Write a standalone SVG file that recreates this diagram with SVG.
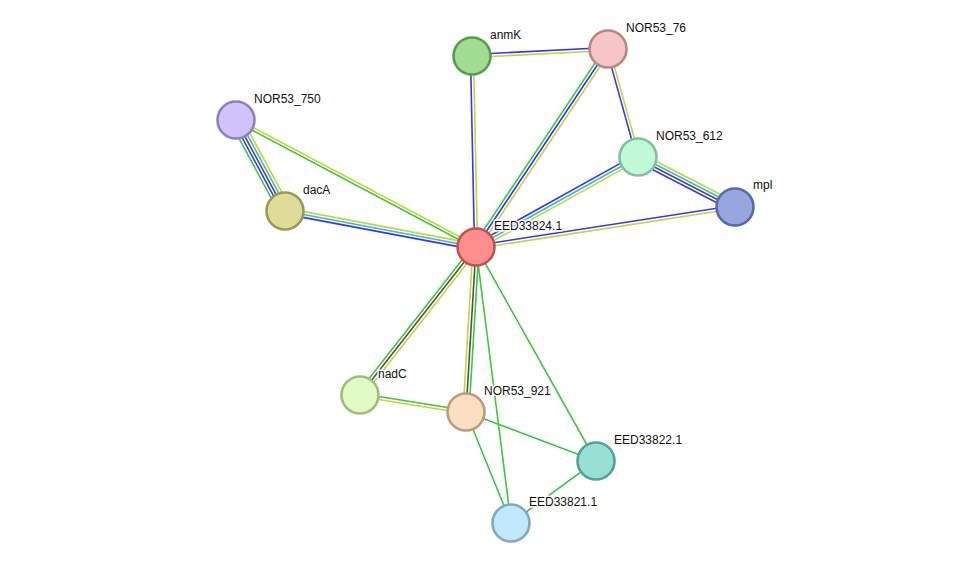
<svg xmlns="http://www.w3.org/2000/svg" width="975" height="569" viewBox="0 0 975 569">
<style>
line{stroke-width:1.6;fill:none}
.b{stroke:#3535f5}.y{stroke:#c2d63a}.g{stroke:#3ec63e}.c{stroke:#3cb8d8}.k{stroke:#505050}
circle{stroke-width:2.6}
text{font-family:"Liberation Sans",Arial,sans-serif;font-size:12px;fill:#111;stroke:#fff;stroke-width:3px;stroke-linejoin:round;paint-order:stroke}
</style>
<rect width="975" height="569" fill="#fff"/>
<g id="connectors">
<line class="b" x1="474.5" y1="247" x2="470.5" y2="56"/>
<line class="y" x1="477.5" y1="247" x2="473.5" y2="56"/>
<line class="b" x1="471.9" y1="54.5" x2="607.9" y2="47.5"/>
<line class="y" x1="472.1" y1="57.5" x2="608.1" y2="50.5"/>
<line class="g" x1="473.5" y1="245.3" x2="605.5" y2="47.3"/>
<line class="b" x1="476" y1="247" x2="608" y2="49"/>
<line class="y" x1="478.5" y1="248.7" x2="610.5" y2="50.7"/>
<line class="b" x1="606.6" y1="49.4" x2="636.6" y2="157.4"/>
<line class="y" x1="609.4" y1="48.6" x2="639.4" y2="156.6"/>
<line class="b" x1="474.5" y1="244.4" x2="636.5" y2="154.4"/>
<line class="c" x1="476" y1="247" x2="638" y2="157"/>
<line class="y" x1="477.5" y1="249.6" x2="639.5" y2="159.6"/>
<line class="y" x1="640.1" y1="153" x2="737.1" y2="203"/>
<line class="c" x1="638.7" y1="155.7" x2="735.7" y2="205.7"/>
<line class="k" x1="637.3" y1="158.3" x2="734.3" y2="208.3"/>
<line class="b" x1="635.9" y1="161" x2="732.9" y2="211"/>
<line class="b" x1="475.8" y1="245.5" x2="734.8" y2="205.5"/>
<line class="y" x1="476.2" y1="248.5" x2="735.2" y2="208.5"/>
<line class="y" x1="236.7" y1="118.7" x2="476.7" y2="245.7"/>
<line class="g" x1="235.3" y1="121.3" x2="475.3" y2="248.3"/>
<line class="g" x1="230.7" y1="122.8" x2="279.7" y2="213.8"/>
<line class="b" x1="233.4" y1="121.4" x2="282.4" y2="212.4"/>
<line class="k" x1="236" y1="120" x2="285" y2="211"/>
<line class="c" x1="238.6" y1="118.6" x2="287.6" y2="209.6"/>
<line class="y" x1="241.3" y1="117.2" x2="290.3" y2="208.2"/>
<line class="y" x1="285.6" y1="208.1" x2="476.6" y2="244.1"/>
<line class="c" x1="285" y1="211" x2="476" y2="247"/>
<line class="b" x1="284.4" y1="213.9" x2="475.4" y2="249.9"/>
<line class="g" x1="473.6" y1="245.2" x2="357.6" y2="393.2"/>
<line class="k" x1="476" y1="247" x2="360" y2="395"/>
<line class="y" x1="478.4" y1="248.9" x2="362.4" y2="396.9"/>
<line class="y" x1="473" y1="246.8" x2="463" y2="411.8"/>
<line class="k" x1="476" y1="247" x2="466" y2="412"/>
<line class="g" x1="479" y1="247.2" x2="469" y2="412.2"/>
<line class="g" x1="360.2" y1="393.5" x2="466.2" y2="410.5"/>
<line class="y" x1="359.8" y1="396.5" x2="465.8" y2="413.5"/>
<line class="g" x1="476" y1="247" x2="596" y2="461"/>
<line class="g" x1="476" y1="247" x2="511" y2="523"/>
<line class="g" x1="466" y1="412" x2="596" y2="461"/>
<line class="g" x1="466" y1="412" x2="511" y2="523"/>
<line class="g" x1="596" y1="461" x2="511" y2="523"/>
</g>
<g id="EED33824.1"><circle cx="476" cy="247" r="18.5" fill="#ff8f8f" stroke="#c05252"/><text x="494" y="230">EED33824.1</text></g>
<g id="anmK"><circle cx="472" cy="56" r="18.5" fill="#a0dd92" stroke="#5a9a50"/><text x="490" y="39">anmK</text></g>
<g id="NOR53_76"><circle cx="608" cy="49" r="18.5" fill="#f6c6c6" stroke="#b88888"/><text x="626" y="32">NOR53_76</text></g>
<g id="NOR53_750"><circle cx="236" cy="120" r="18.5" fill="#d2c2fc" stroke="#9080c0"/><text x="254" y="103">NOR53_750</text></g>
<g id="dacA"><circle cx="285" cy="211" r="18.5" fill="#dedc98" stroke="#9a9a58"/><text x="303" y="194">dacA</text></g>
<g id="NOR53_612"><circle cx="638" cy="157" r="18.5" fill="#c0fad8" stroke="#80c0a0"/><text x="656" y="140">NOR53_612</text></g>
<g id="mpl"><circle cx="735" cy="207" r="18.5" fill="#98a6e0" stroke="#5a68a8"/><text x="753" y="189">mpl</text></g>
<g id="nadC"><circle cx="360" cy="395" r="18.5" fill="#e0fcc4" stroke="#a0bc80"/><text x="378" y="378">nadC</text></g>
<g id="NOR53_921"><circle cx="466" cy="412" r="18.5" fill="#fedec0" stroke="#ba9c80"/><text x="484" y="395">NOR53_921</text></g>
<g id="EED33822.1"><circle cx="596" cy="461" r="18.5" fill="#98e0d4" stroke="#56a098"/><text x="614" y="444">EED33822.1</text></g>
<g id="EED33821.1"><circle cx="511" cy="523" r="18.5" fill="#c2e8fc" stroke="#80a8c0"/><text x="529" y="506">EED33821.1</text></g>
</svg>
